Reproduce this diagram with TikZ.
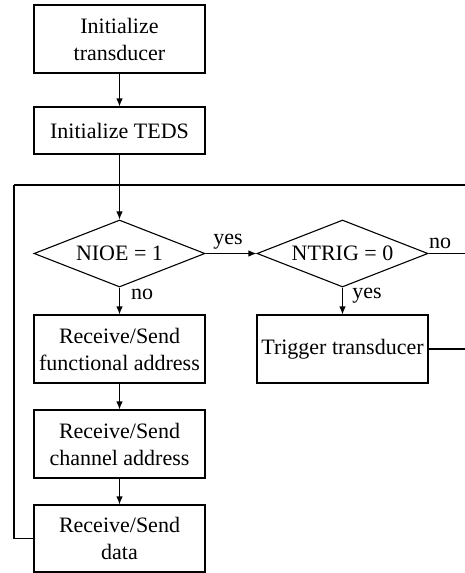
\documentclass[tikz,border=0pt]{standalone}
\usepackage{fontspec}
\setmainfont{Liberation Serif}
\usetikzlibrary{shapes.geometric,arrows.meta}
\begin{document}
\begin{tikzpicture}[x=1pt,y=-1pt,
  line width=1.1pt,
  every node/.style={font=\fontsize{22}{27}\selectfont},
  procbox/.style={draw,rectangle,align=center,minimum width=171pt,inner sep=0pt},
  decide/.style={draw,diamond,aspect=2.55,minimum width=171pt,minimum height=67pt,inner sep=0pt},
  lbl/.style={inner sep=0pt},
  arr/.style={-{Latex[length=8pt,width=6.5pt]}}]
\useasboundingbox (0,0) rectangle (465,573);
\node[procbox,minimum height=68pt] (b1) at (119.5,39) {Initialize\\transducer};
\node[procbox,minimum height=47pt] (b2) at (119.5,130.5) {Initialize TEDS};
\node[decide] (nioe) at (119.5,253.5) {NIOE = 1};
\node[decide] (ntrig) at (342.5,253.5) {NTRIG = 0};
\node[procbox,minimum height=68pt] (b3) at (119.5,349) {Receive/Send\\functional address};
\node[procbox,minimum height=68pt] (b4) at (119.5,444) {Receive/Send\\channel address};
\node[procbox,minimum height=67pt] (b5) at (119.5,538.5) {Receive/Send\\data};
\node[procbox,minimum height=68pt] (trig) at (342.5,349) {Trigger transducer};
\coordinate (j) at (119.5,185);
\coordinate (lt) at (14,185);
\coordinate (rt) at (465,185);
\coordinate (rno) at (465,253.5);
\coordinate (rtrig) at (465,349);
\draw[arr] (b1) -- (b2);
\draw (b2) -- (j);
\draw[arr] (j) -- (nioe);
\draw (lt) -- (rt);
\draw (b5.west) -| (lt);
\draw[arr] (nioe) -- (ntrig);
\draw[arr] (nioe) -- (b3);
\draw[arr] (b3) -- (b4);
\draw[arr] (b4) -- (b5);
\draw[arr] (ntrig) -- (trig);
\draw (ntrig.east) -- (rno);
\draw (trig.east) -- (rtrig);
\node[lbl] (yes1) at (228,242) {yes};
\node[lbl] (no1) at (142,294) {no};
\node[lbl] (no2) at (440,243) {no};
\node[lbl] (yes2) at (367,296) {yes};
\end{tikzpicture}
\end{document}
